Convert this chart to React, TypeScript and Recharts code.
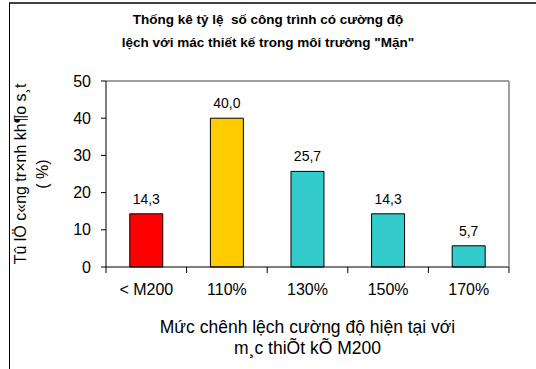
import React from 'react';
import { BarChart, Bar, XAxis, YAxis, Cell, LabelList, ReferenceLine, Label } from 'recharts';

// Deviation classes and share of structures (%) in each class
const categories = ['< M200', '110%', '130%', '150%', '170%'];
const shares = [14.3, 40.0, 25.7, 14.3, 5.7];
const barColors = ['#FF0000', '#FFCC00', '#33CCCC', '#33CCCC', '#33CCCC'];
const yTicks = [0, 10, 20, 30, 40, 50];

const titleLines = [
  'Thống kê tỷ lệ  số công trình có cường độ',
  'lệch với mác thiết kế trong môi trường "Mặn"',
];
const yTitleLines = ['Tû lÖ c«ng tr×nh kh¶o s¸t', '( %)'];
const xTitleLines = ['Mức chênh lệch cường độ hiện tại với', 'm¸c thiÕt kÕ M200'];

const data = categories.map((category, i) => ({ category, share: shares[i] }));

const FONT = '"Liberation Sans", Arial, sans-serif';
const W = 536;
const H = 369;
const TICK_LEN = 6;

const formatShare = (v: number) => Number(v).toFixed(1).replace('.', ',');

// Category tick: label under the band centre, tick marks on the band edges
const CategoryTick = (props: any) => {
  const { x, y, payload, index } = props;
  const half = payload && payload.offset ? payload.offset : 0;
  const isLast = index === categories.length - 1;
  return (
    <g>
      <line x1={x - half} x2={x - half} y1={y} y2={y + TICK_LEN} stroke="#000" />
      {isLast && <line x1={x + half} x2={x + half} y1={y} y2={y + TICK_LEN} stroke="#000" />}
      <text x={x} y={y + 17} dy="0.71em" textAnchor="middle" fontFamily={FONT} fontSize={16} fill="#000">
        {payload.value}
      </text>
    </g>
  );
};

const YTitle = (props: any) => {
  const vb = props.viewBox || { x: 0, y: 0, width: 0, height: 0 };
  const cy = vb.y + vb.height / 2;
  return (
    <g>
      {yTitleLines.map((line, i) => (
        <text
          key={i}
          transform={`translate(${20 + i * 22}, ${cy}) rotate(-90)`}
          textAnchor="middle"
          dominantBaseline="central"
          fontFamily={FONT}
          fontSize={16}
          fill="#000"
        >
          {line}
        </text>
      ))}
    </g>
  );
};

const XTitle = (props: any) => {
  const vb = props.viewBox || { x: 0, y: 0, width: 0, height: 0 };
  const cx = vb.x + vb.width / 2;
  return (
    <g>
      {xTitleLines.map((line, i) => (
        <text
          key={i}
          x={cx}
          y={327 + i * 21}
          textAnchor="middle"
          dominantBaseline="central"
          fontFamily={FONT}
          fontSize={17.5}
          fill="#000"
        >
          {line}
        </text>
      ))}
    </g>
  );
};

export default function App() {
  return (
    <div style={{ position: 'absolute', left: 0, top: 0, width: W, height: H, background: '#fff', overflow: 'hidden' }}>
      <div
        style={{
          position: 'absolute',
          left: 9,
          top: 2,
          width: W - 9,
          height: H - 2,
          borderTop: '2px solid #404040',
          borderLeft: '1px solid #000',
          boxSizing: 'border-box',
        }}
      />
      {titleLines.map((line, i) => (
        <div
          key={i}
          style={{
            position: 'absolute',
            left: 0,
            width: W,
            top: 11 + i * 23,
            textAlign: 'center',
            fontFamily: FONT,
            fontWeight: 'bold',
            fontSize: 13.5,
            lineHeight: '18px',
            color: '#000',
            whiteSpace: 'pre',
          }}
        >
          {line}
        </div>
      ))}
      <div style={{ position: 'absolute', left: 0, top: 0 }}>
        <BarChart
          width={W}
          height={H}
          data={data}
          margin={{ top: 81, right: 0, bottom: 0, left: 0 }}
          barCategoryGap="29.5%"
        >
          <XAxis
            xAxisId="cat"
            dataKey="category"
            height={102}
            axisLine={{ stroke: '#000' }}
            tickLine={false}
            tickSize={0}
            tickMargin={0}
            tick={<CategoryTick />}
            interval={0}
          >
            <Label content={<XTitle />} />
          </XAxis>
          <YAxis
            yAxisId="left"
            domain={[0, 50]}
            ticks={yTicks}
            width={106}
            tickSize={5}
            tickMargin={10}
            axisLine={{ stroke: '#000' }}
            tickLine={{ stroke: '#000' }}
            tick={{ fontFamily: FONT, fontSize: 16, fill: '#000' }}
          >
            <Label content={<YTitle />} />
          </YAxis>
          {/* right-hand frame of the plot area */}
          <YAxis
            yAxisId="right"
            orientation="right"
            domain={[0, 50]}
            width={27}
            tick={false}
            tickLine={false}
            axisLine={{ stroke: '#808080', strokeWidth: 1.5 }}
          />
          <ReferenceLine y={50} yAxisId="left" xAxisId="cat" stroke="#808080" strokeWidth={1.5} />
          <Bar dataKey="share" xAxisId="cat" yAxisId="left" stroke="#000" strokeWidth={1} isAnimationActive={false}>
            {data.map((d, i) => (
              <Cell key={d.category} fill={barColors[i]} />
            ))}
            <LabelList
              dataKey="share"
              position="top"
              offset={10}
              formatter={formatShare}
              style={{ fontFamily: FONT, fontSize: 14, fill: '#000' }}
            />
          </Bar>
        </BarChart>
      </div>
    </div>
  );
}
